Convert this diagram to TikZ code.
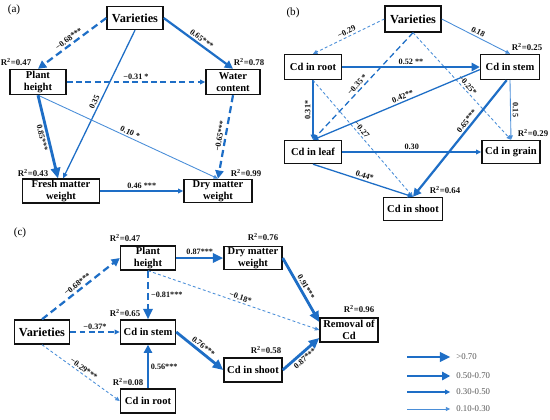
\documentclass[tikz,border=0pt]{standalone}
\usepackage{fontspec}
\setmainfont{Liberation Serif}
\usepackage{tikz}
\usetikzlibrary{arrows.meta,calc}
\definecolor{pathblue}{HTML}{1E6EC6}
\definecolor{pathlight}{HTML}{4A8ED8}
\definecolor{ink}{HTML}{111111}
\definecolor{inkgray}{HTML}{555555}
\tikzset{
  pbox/.style={draw=ink,fill=white,line width=1.2pt,inner sep=1pt,
               align=center,font=\fontsize{9}{10}\selectfont\bfseries},
  vbox/.style={pbox,font=\fontsize{10.5}{11}\selectfont\bfseries},
  rsq/.style={font=\fontsize{7.5}{8}\selectfont\bfseries,inner sep=1pt,text=ink},
  pathlbl/.style={font=\fontsize{7}{8}\selectfont\bfseries,inner sep=1.5pt,text=ink},
  panel/.style={font=\fontsize{9.5}{10}\selectfont,inner sep=1pt},
  leglbl/.style={font=\fontsize{7.5}{8}\selectfont,text=inkgray,inner sep=1pt},
  p1/.style={pathblue,line width=2.4pt,-{Triangle[length=9pt,width=8pt]}},
  p2/.style={pathblue,line width=1.9pt,-{Triangle[length=7pt,width=7pt]}},
  p3/.style={pathblue,line width=1.1pt,-{Triangle[length=4.5pt,width=4pt]}},
  p4/.style={pathlight,line width=0.75pt,-{Triangle[length=3.8pt,width=3.4pt]}},
  negthick/.style={dash pattern=on 6pt off 3.5pt},
  negmid/.style={dash pattern=on 5pt off 3pt},
  negthin/.style={dash pattern=on 2.5pt off 2pt}
}

\begin{document}
\begin{tikzpicture}[x=0.03cm,y=-0.03cm]
\useasboundingbox (0,0) rectangle (550,420);

% ---- (a) growth traits
\node[panel] (taga) at (14,10) {(a)};
\node[vbox,minimum width=1.68cm,minimum height=0.69cm] (vara) at (135,18) {Varieties};
\node[pbox,minimum width=1.68cm,minimum height=0.75cm] (pha) at (38,82) {Plant\\height};
\node[pbox,minimum width=1.62cm,minimum height=0.75cm] (wca) at (233,82) {Water\\content};
\node[pbox,minimum width=2.31cm,minimum height=0.66cm] (fmwa) at (61,191) {Fresh matter\\weight};
\node[pbox,minimum width=2.04cm,minimum height=0.69cm] (dmwa) at (218,191) {Dry matter\\weight};
\node[rsq] (rpha) at (16,62) {R\textsuperscript{2}=0.47};
\node[rsq] (rwca) at (249,62) {R\textsuperscript{2}=0.78};
\node[rsq] (rfmwa) at (33,173) {R\textsuperscript{2}=0.43};
\node[rsq] (rdmwa) at (246,173) {R\textsuperscript{2}=0.99};

\draw[p2,negthick] (vara.west) -- (pha.north)
  node[pathlbl,midway,sloped,above] {−0.68***};
\draw[p2] (vara.east) -- (wca.north)
  node[pathlbl,midway,sloped,above] {0.65***};
\draw[p3] (vara.south) -- ([xshift=0.06cm]fmwa.north)
  node[pathlbl,pos=0.5,sloped,above] {0.35};
\draw[p3,negmid] (pha.east) -- (wca.west)
  node[pathlbl,midway,above] {−0.31 *};
\draw[p4] (pha.south) -- (dmwa.north)
  node[pathlbl,midway,sloped,above] {0.10 *};
\draw[p1] (pha.south) -- ([xshift=-0.09cm]fmwa.north)
  node[pathlbl,midway,sloped,below] {0.85***};
\draw[p2,negthick] (wca.south) -- (dmwa.north)
  node[pathlbl,midway,sloped,above] {−0.65***};
\draw[p3] (fmwa.east) -- (dmwa.west)
  node[pathlbl,midway,above] {0.46 ***};

% ---- (b) Cd transfer
\node[panel] (tagb) at (293,13) {(b)};
\node[vbox,minimum width=1.68cm,minimum height=0.78cm] (varb) at (413,19) {Varieties};
\node[pbox,minimum width=1.71cm,minimum height=0.75cm] (rootb) at (313,67) {Cd in root};
\node[pbox,minimum width=1.77cm,minimum height=0.75cm] (stemb) at (510,67) {Cd in stem};
\node[pbox,minimum width=1.71cm,minimum height=0.69cm] (leafb) at (313,152) {Cd in leaf};
\node[pbox,minimum width=1.74cm,minimum height=0.69cm] (grainb) at (511,152) {Cd in grain};
\node[pbox,minimum width=1.77cm,minimum height=0.69cm] (shootb) at (413,209) {Cd in shoot};
\node[rsq] (rstemb) at (527,47) {R\textsuperscript{2}=0.25};
\node[rsq] (rgrainb) at (533,133) {R\textsuperscript{2}=0.29};
\node[rsq] (rshootb) at (445,190) {R\textsuperscript{2}=0.64};

\draw[p4,negthin] (varb.west) -- (rootb.north)
  node[pathlbl,midway,sloped,above] {−0.29};
\draw[p4] (varb.east) -- (stemb.north)
  node[pathlbl,midway,sloped,above] {0.18};
\draw[p3,negmid] (varb.south) -- (leafb.north)
  node[pathlbl,pos=0.52,sloped,above] {−0.35 *};
\draw[p4,negthin] (varb.south) -- (grainb.north)
  node[pathlbl,pos=0.52,sloped,above] {−0.25*};
\draw[p2] (rootb.east) -- (stemb.west)
  node[pathlbl,midway,above] {0.52 **};
\draw[p3] (rootb.south) -- (leafb.north)
  node[pathlbl,midway,rotate=90,above] {0.31*};
\draw[p4,negthin] (rootb.south) -- (shootb.north)
  node[pathlbl,pos=0.45,sloped,above] {−0.27};
\draw[p3] (stemb.185) -- (leafb.north)
  node[pathlbl,pos=0.45,sloped,above] {0.42**};
\draw[p4] (stemb.south) -- (grainb.north)
  node[pathlbl,midway,rotate=-90,above] {0.15};
\draw[p2] ([xshift=-0.1cm]stemb.south) -- (shootb.north)
  node[pathlbl,pos=0.38,sloped,above] {0.65***};
\draw[p3] (leafb.east) -- (grainb.west)
  node[pathlbl,midway,above] {0.30};
\draw[p3] (leafb.south) -- (shootb.north)
  node[pathlbl,midway,sloped,above] {0.44*};

% ---- (c) removal of Cd
\node[panel] (tagc) at (20,233) {(c)};
\node[pbox,minimum width=1.65cm,minimum height=0.72cm] (phc) at (148,258) {Plant\\height};
\node[pbox,minimum width=1.74cm,minimum height=0.69cm] (dmwc) at (253,258) {Dry matter\\weight};
\node[vbox,minimum width=1.65cm,minimum height=0.72cm] (varc) at (42,332) {Varieties};
\node[pbox,minimum width=1.65cm,minimum height=0.72cm] (stemc) at (148,332) {Cd in stem};
\node[pbox,minimum width=1.74cm,minimum height=0.72cm] (shootc) at (253,370) {Cd in shoot};
\node[pbox,minimum width=1.65cm,minimum height=0.72cm] (rootc) at (148,401) {Cd in root};
\node[pbox,minimum width=1.74cm,minimum height=0.72cm] (remc) at (349,330) {Removal of\\Cd};
\node[rsq] (rphc) at (125,238) {R\textsuperscript{2}=0.47};
\node[rsq] (rdmwc) at (263,237) {R\textsuperscript{2}=0.76};
\node[rsq] (rstemc) at (125,313) {R\textsuperscript{2}=0.65};
\node[rsq] (rshootc) at (266,350) {R\textsuperscript{2}=0.58};
\node[rsq] (rrootc) at (128,382) {R\textsuperscript{2}=0.08};
\node[rsq] (rremc) at (359,309) {R\textsuperscript{2}=0.96};

\draw[p2,negthick] (varc.north) -- (phc.west)
  node[pathlbl,midway,sloped,above] {−0.68***};
\draw[p3,negmid] (varc.east) -- (stemc.west)
  node[pathlbl,midway,above] {−0.37*};
\draw[p4,negthin] (varc.south) -- (rootc.west)
  node[pathlbl,midway,sloped,above] {−0.29***};
\draw[p1] (phc.east) -- (dmwc.west)
  node[pathlbl,midway,above] {0.87***};
\draw[p1,negthick] (phc.south) -- (stemc.north)
  node[pathlbl,midway,right] {−0.81***};
\draw[p4,negthin] (phc.south) -- (remc.west)
  node[pathlbl,pos=0.53,sloped,above] {−0.18*};
\draw[p1] (dmwc.east) -- (remc.165)
  node[pathlbl,midway,sloped,above] {0.91***};
\draw[p1] (stemc.east) -- (shootc.west)
  node[pathlbl,midway,sloped,above] {0.76***};
\draw[p2] (rootc.north) -- (stemc.south)
  node[pathlbl,midway,right] {0.56***};
\draw[p1] (shootc.east) -- (remc.195)
  node[pathlbl,midway,sloped,below] {0.87***};

% legend
\coordinate (leg1s) at (407,357);
\coordinate (leg2s) at (407,376);
\coordinate (leg3s) at (407,392);
\coordinate (leg4s) at (407,409);
\node[leglbl,anchor=west] (leg1) at (455,357) {>0.70};
\node[leglbl,anchor=west] (leg2) at (455,376) {0.50-0.70};
\node[leglbl,anchor=west] (leg3) at (455,392) {0.30-0.50};
\node[leglbl,anchor=west] (leg4) at (455,409) {0.10-0.30};
\draw[p1,shorten >=4pt] (leg1s) -- (leg1.west);
\draw[p2,shorten >=4pt] (leg2s) -- (leg2.west);
\draw[p3,shorten >=4pt] (leg3s) -- (leg3.west);
\draw[p4,shorten >=4pt] (leg4s) -- (leg4.west);
\end{tikzpicture}
\end{document}
